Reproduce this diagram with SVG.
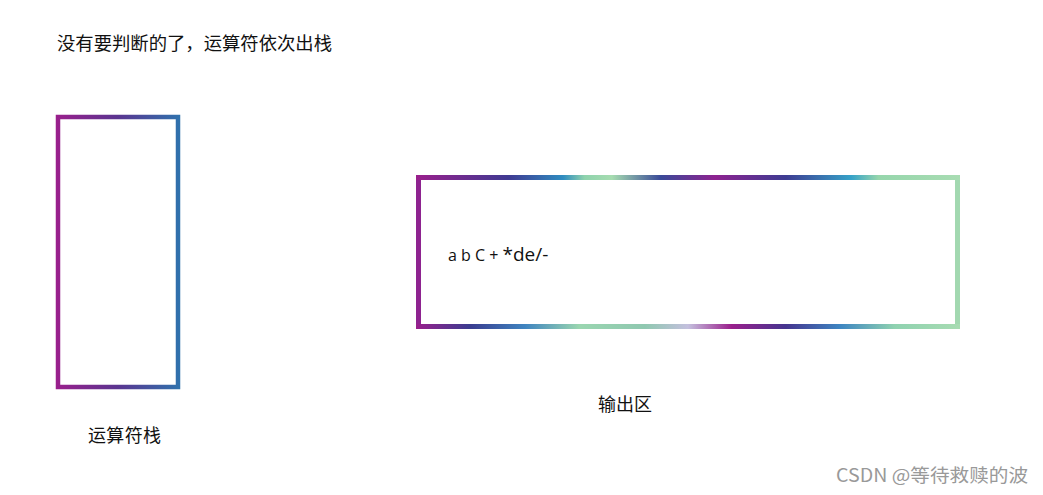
<svg xmlns="http://www.w3.org/2000/svg" width="1043" height="495" viewBox="0 0 1043 495">
<style>
.t{font-family:"Noto Sans CJK SC","Noto Sans",sans-serif;font-size:18px;fill:#111}
.wm{font-family:"Noto Sans CJK SC","Liberation Sans",sans-serif;font-size:18px;fill:#999}
.lat{font-family:"Open Sans","Noto Sans",sans-serif;fill:#111}
</style>
<defs>
<linearGradient id="gl" gradientUnits="userSpaceOnUse" x1="56" y1="0" x2="180" y2="0">
<stop offset="0" stop-color="#9a1f8c"/><stop offset="0.5" stop-color="#5a3590"/><stop offset="1" stop-color="#2f72ad"/>
</linearGradient>
<linearGradient id="gt" gradientUnits="userSpaceOnUse" x1="416" y1="0" x2="960" y2="0">
<stop offset="0" stop-color="#9a1f8c"/><stop offset="0.17" stop-color="#3f3a92"/><stop offset="0.27" stop-color="#2f8cc0"/><stop offset="0.31" stop-color="#8fd3ad"/><stop offset="0.36" stop-color="#a6dcb0"/><stop offset="0.45" stop-color="#3a4a98"/><stop offset="0.55" stop-color="#8e2290"/><stop offset="0.68" stop-color="#3d3c92"/><stop offset="0.8" stop-color="#36a2c8"/><stop offset="0.85" stop-color="#96d6ac"/><stop offset="1" stop-color="#a8dcb2"/>
</linearGradient>
<linearGradient id="gb" gradientUnits="userSpaceOnUse" x1="416" y1="0" x2="960" y2="0">
<stop offset="0" stop-color="#9a1f8c"/><stop offset="0.1" stop-color="#3a3d90"/><stop offset="0.2" stop-color="#3f84c0"/><stop offset="0.3" stop-color="#9ad6b0"/><stop offset="0.42" stop-color="#8fc8b0"/><stop offset="0.5" stop-color="#c4c0de"/><stop offset="0.58" stop-color="#9a1f8c"/><stop offset="0.68" stop-color="#45358f"/><stop offset="0.78" stop-color="#3e86c2"/><stop offset="0.88" stop-color="#8fd2b0"/><stop offset="1" stop-color="#a8dcb2"/>
</linearGradient>
</defs>
<text class="t" x="57" y="50" textLength="275" lengthAdjust="spacingAndGlyphs">没有要判断的了，运算符依次出栈</text>
<g id="stack">
<rect x="58" y="117" width="120" height="270" fill="none" stroke="url(#gl)" stroke-width="4.5"/>
<text class="t" x="88" y="442" textLength="73">运算符栈</text>
</g>
<g id="output">
<rect x="416" y="175" width="5" height="154" fill="#8e2390"/>
<rect x="955" y="175" width="5" height="154" fill="#a2d8b0"/>
<rect x="416" y="175" width="544" height="5" fill="url(#gt)"/>
<rect x="416" y="324" width="544" height="5" fill="url(#gb)"/>
<text class="lat" x="448" y="261"><tspan font-size="16">a b C + </tspan><tspan font-size="19">*de/-</tspan></text>
<text class="t" x="598" y="411" textLength="54">输出区</text>
</g>
<g id="connectors"/>
<text class="wm" x="836" y="482" textLength="192" lengthAdjust="spacingAndGlyphs">CSDN @等待救赎的波</text>
</svg>
